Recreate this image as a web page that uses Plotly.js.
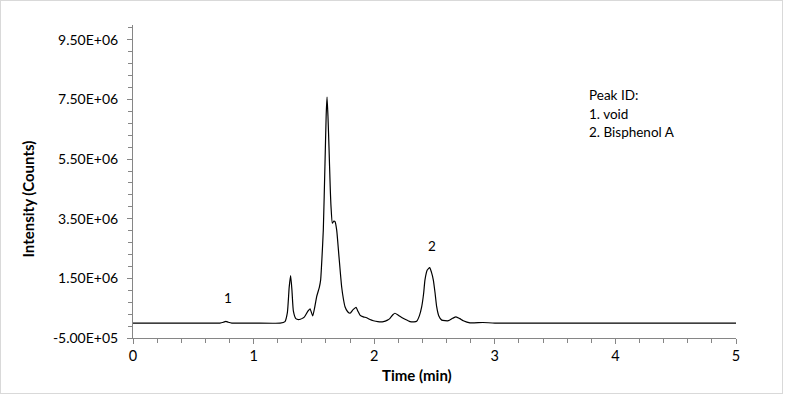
<!DOCTYPE html>
<html>
<head>
<meta charset="utf-8">
<script src="https://cdn.plot.ly/plotly-3.0.1.min.js"></script>
<style>
html,body{margin:0;padding:0;background:#fff;}
#wrap{position:relative;width:800px;height:396px;}
#chart{width:800px;height:396px;}
#frame{position:absolute;left:0;top:0;width:781px;height:392px;border:1px solid #d9d9d9;pointer-events:none;}
</style>
</head>
<body>
<div id="wrap"><div id="chart"></div><div id="frame"></div></div>
<script>
// Chromatogram: time (min) and intensity (counts)
const timeMin = [0, 0.5, 0.72, 0.75, 0.77, 0.79, 0.82, 1.0, 1.22, 1.26, 1.28, 1.295, 1.307, 1.318, 1.33, 1.35, 1.38, 1.42, 1.45, 1.468, 1.49, 1.51, 1.523, 1.545, 1.556, 1.567, 1.578, 1.592, 1.602, 1.609, 1.617, 1.625, 1.635, 1.642, 1.653, 1.665, 1.675, 1.689, 1.708, 1.73, 1.745, 1.758, 1.78, 1.80, 1.825, 1.849, 1.865, 1.882, 1.91, 1.937, 1.965, 1.993, 2.03, 2.076, 2.11, 2.131, 2.155, 2.172, 2.2, 2.228, 2.26, 2.297, 2.33, 2.352, 2.375, 2.394, 2.41, 2.421, 2.44, 2.46, 2.475, 2.49, 2.505, 2.518, 2.535, 2.56, 2.615, 2.65, 2.678, 2.71, 2.739, 2.794, 2.9, 3.0, 4.0, 5.0];
const intensity = [0, 0, 0, 30000, 60000, 30000, 0, 0, 0, 50000, 350000, 1200000, 1590000, 1100000, 400000, 150000, 120000, 200000, 400000, 480000, 240000, 600000, 890000, 1200000, 1450000, 2200000, 3120000, 5360000, 7000000, 7580000, 6900000, 5920000, 4600000, 3900000, 3350000, 3420000, 3400000, 3120000, 2230000, 1220000, 800000, 550000, 380000, 330000, 450000, 530000, 400000, 270000, 210000, 180000, 120000, 80000, 50000, 50000, 100000, 160000, 280000, 330000, 260000, 190000, 120000, 50000, 40000, 60000, 250000, 550000, 1000000, 1450000, 1780000, 1860000, 1700000, 1450000, 1000000, 550000, 250000, 100000, 80000, 160000, 210000, 150000, 80000, 10000, 20000, 0, 0, 0];

const yTickVals = [-500000, 1500000, 3500000, 5500000, 7500000, 9500000];
const yTickText = ["-5.00E+05", "1.50E+06", "3.50E+06", "5.50E+06", "7.50E+06", "9.50E+06"];
const xTickVals = [0, 1, 2, 3, 4, 5];

const xTitle = "Time (min)";
const yTitle = "Intensity (Counts)";
const peakLabelText = ["1", "2"];
const peakLabelX = [0.788, 2.479];
const peakLabelY = [840000, 2600000];
const legendLines = ["Peak ID:", "1. void", "2. Bisphenol A"];

const font = "Lato, 'Open Sans', sans-serif";
const axisColor = "#868686";

const annotations = [];
for (let i = 0; i < peakLabelText.length; i++) {
  annotations.push({x: peakLabelX[i], y: peakLabelY[i], xref: 'x', yref: 'y', text: peakLabelText[i], showarrow: false, font: {family: font, size: 13.5, color: '#000'}});
}
for (let i = 0; i < legendLines.length; i++) {
  annotations.push({x: 3.765, y: 7650000 - i * 620000, xref: 'x', yref: 'y', text: legendLines[i], xanchor: 'left', showarrow: false, font: {family: font, size: 13.5, color: '#000'}});
}
annotations.push({x: 0.4705, y: -0.118, xref: 'paper', yref: 'paper', xanchor: 'center', yanchor: 'middle', text: '<b>' + xTitle + '</b>', showarrow: false, font: {family: font, size: 15, color: '#000'}});
annotations.push({x: -0.1725, y: 0.4457, xref: 'paper', yref: 'paper', xanchor: 'center', yanchor: 'middle', text: '<b>' + yTitle + '</b>', textangle: -90, showarrow: false, font: {family: font, size: 15, color: '#000'}});

const trace = {x: timeMin, y: intensity, type: 'scatter', mode: 'lines', line: {color: '#000', width: 1.2, shape: 'spline', smoothing: 0.5}, hoverinfo: 'skip'};

const layout = {
  width: 800, height: 396,
  margin: {l: 133, r: 64, t: 25, b: 58},
  paper_bgcolor: '#fff', plot_bgcolor: '#fff',
  showlegend: false,
  font: {family: font, size: 14, color: '#000'},
  xaxis: {
    range: [0, 5], tickvals: xTickVals, ticks: 'outside', ticklen: 5, tickcolor: axisColor,
    showline: true, linecolor: axisColor, linewidth: 1, showgrid: false, zeroline: false,
    tickfont: {family: font, size: 14.5, color: '#000'},
    minor: {dtick: 0.2, tick0: 0, ticks: 'outside', ticklen: 4, tickcolor: axisColor, showgrid: false}
  },
  yaxis: {
    range: [-500000, 10000000], tickvals: yTickVals, ticktext: yTickText, ticks: 'outside', ticklen: 5, tickcolor: axisColor,
    showline: true, linecolor: axisColor, linewidth: 1, showgrid: false, zeroline: false,
    ticklabelstandoff: 6,
    tickfont: {family: font, size: 14, color: '#000'},
    minor: {dtick: 400000, tick0: -500000, ticks: 'outside', ticklen: 4, tickcolor: axisColor, showgrid: false}
  },
  annotations: annotations
};

Plotly.newPlot('chart', [trace], layout, {displayModeBar: false, staticPlot: true});
</script>
</body>
</html>
